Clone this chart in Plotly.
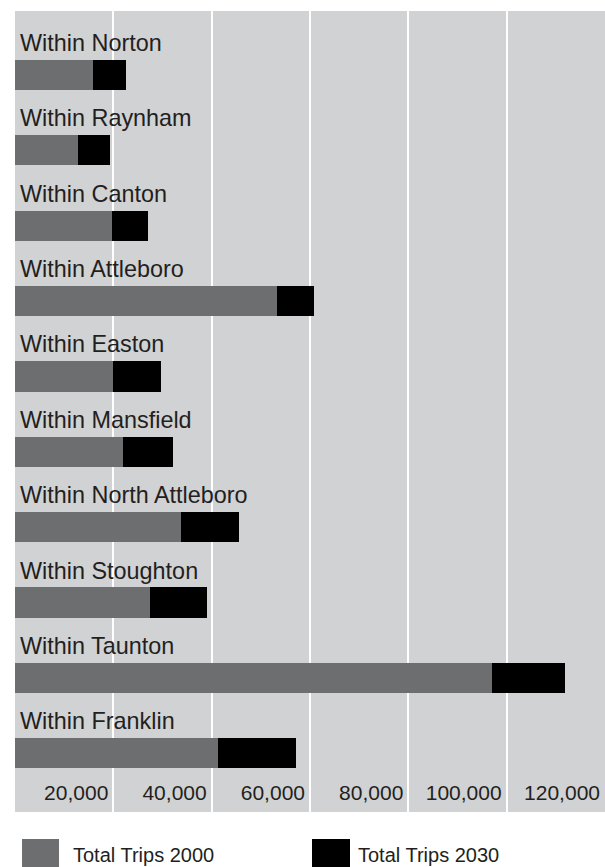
import plotly.graph_objects as go

categories = ["Within Norton", "Within Raynham", "Within Canton", "Within Attleboro",
              "Within Easton", "Within Mansfield", "Within North Attleboro",
              "Within Stoughton", "Within Taunton", "Within Franklin"]
trips_2000 = [15900, 12800, 19700, 53300, 19900, 22000, 33800, 27500, 97000, 41300]
trips_2030 = [22600, 19300, 27000, 60800, 29700, 32100, 45600, 39000, 111900, 57200]
tick_vals = [20000, 40000, 60000, 80000, 100000, 120000]
tick_text = ["20,000", "40,000", "60,000", "80,000", "100,000", "120,000"]
legend_names = ["Total Trips 2000", "Total Trips 2030"]

GRAY = "#6d6e70"
BLACK = "#000000"
BG = "#d1d2d4"
TXT = "#231f20"
FONT = "Liberation Sans, Arial, sans-serif"

fig = go.Figure()
fig.add_trace(go.Bar(y=categories, x=trips_2030, orientation="h", marker_color=BLACK,
                     marker_line_width=0, width=0.4, name=legend_names[1], showlegend=False))
fig.add_trace(go.Bar(y=categories, x=trips_2000, orientation="h", marker_color=GRAY,
                     marker_line_width=0, width=0.4, name=legend_names[0], showlegend=False))

for c in categories:
    fig.add_annotation(x=0, y=c, xref="x", yref="y", text=c, showarrow=False,
                       xanchor="left", yanchor="middle", xshift=3, yshift=32,
                       font=dict(family=FONT, size=23.4, color=TXT))

# legend swatches and labels
legend_specs = [(GRAY, 0.0119, 0.0746, 0.095, legend_names[0]),
                (BLACK, 0.5034, 0.5678, 0.578, legend_names[1])]
for col, x0, x1, tx, name in legend_specs:
    fig.add_shape(type="rect", xref="paper", yref="paper", x0=x0, x1=x1, y0=-0.0337, y1=-0.072,
                  fillcolor=col, line_width=0)
    fig.add_annotation(xref="paper", yref="paper", x=tx, y=-0.0537, text=name, showarrow=False,
                       xanchor="left", yanchor="middle",
                       font=dict(family=FONT, size=20, color=TXT))

fig.update_layout(
    width=605, height=867,
    margin=dict(l=15, r=0, t=11, b=55),
    paper_bgcolor="white", plot_bgcolor=BG,
    barmode="overlay", bargap=0,
    showlegend=False,
    font=dict(family=FONT, size=20, color=TXT),
)
fig.update_xaxes(range=[0, 120000], tickvals=tick_vals, ticktext=tick_text,
                 ticklabelposition="inside left", ticklabelshift=-5, ticklabelstandoff=2,
                 ticks="", showline=False,
                 showgrid=True, gridcolor="white", gridwidth=2, zeroline=False,
                 tickfont=dict(family=FONT, size=21, color=TXT), fixedrange=True)
fig.update_yaxes(range=[9.78, -0.85], showticklabels=False, ticks="", showgrid=False,
                 zeroline=False, showline=False, fixedrange=True)

fig.write_html("out.html", config={"displayModeBar": False},
               post_script="document.body.style.margin='0';")
